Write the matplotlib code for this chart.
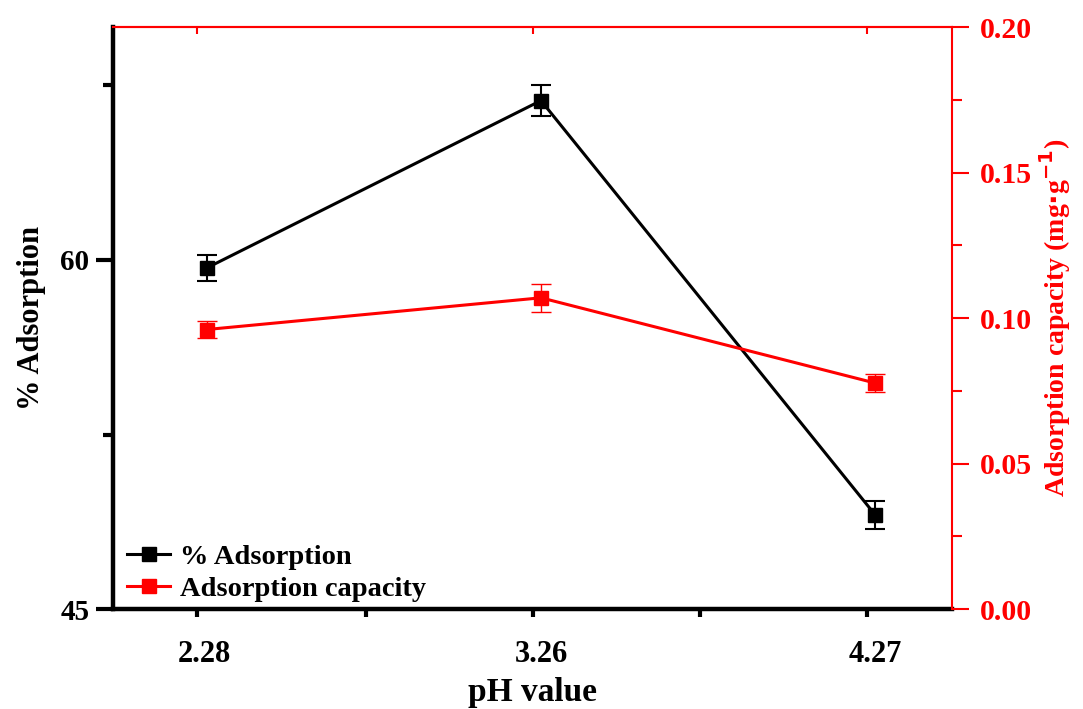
import matplotlib
matplotlib.use("Agg")
import matplotlib.pyplot as plt
import matplotlib.transforms as mtransforms
from matplotlib.ticker import MultipleLocator, FixedLocator, FormatStrFormatter

# ── data ──────────────────────────────────────────────────────────────────────
ph_labels = ["2.28", "3.26", "4.27"]
ph_pos = [0, 1, 2]

adsorption = [59.66, 66.85, 49.05]
adsorption_err = [0.56, 0.68, 0.60]

capacity = [0.0961, 0.1070, 0.0777]
capacity_err = [0.0030, 0.0049, 0.0030]

# tick marks in the original sit a few pixels left of the points
tick_pos = [-0.03, 0.976, 1.976]
minor_pos = [0.476, 1.476]

RED = "#ff0000"
FONT = "Liberation Serif"

plt.rcParams["font.family"] = FONT
plt.rcParams["font.weight"] = "bold"

fig = plt.figure(figsize=(10.83, 7.09), dpi=100)
ax = fig.add_axes([0.1043, 0.141, 0.7747, 0.8205])
ax2 = ax.twinx()

# ── series ────────────────────────────────────────────────────────────────────
e1 = ax.errorbar(ph_pos, adsorption, yerr=adsorption_err, color="black", lw=2.2,
                 marker="s", ms=10, mec="black", mfc="black",
                 capsize=7, elinewidth=1.5, capthick=1.5, zorder=3)
e2 = ax2.errorbar(ph_pos, capacity, yerr=capacity_err, color=RED, lw=2.2,
                  marker="s", ms=10, mec=RED, mfc=RED,
                  capsize=7, elinewidth=1.0, capthick=1.0, zorder=3)

# ── axes ──────────────────────────────────────────────────────────────────────
ax.set_xlim(-0.281, 2.23)
ax.set_ylim(45, 70)
ax2.set_ylim(0, 0.20)

ax.set_xticks(tick_pos)
ax.set_xticklabels(ph_labels)
ax.xaxis.set_minor_locator(FixedLocator(minor_pos))
ax.set_yticks([45, 60])
ax.yaxis.set_minor_locator(FixedLocator([52.5, 67.5]))
ax2.yaxis.set_major_locator(MultipleLocator(0.05))
ax2.yaxis.set_minor_locator(MultipleLocator(0.025))
ax2.yaxis.set_major_formatter(FormatStrFormatter("%.2f"))

for s in ("left", "bottom"):
    ax.spines[s].set_linewidth(3.2)
    ax.spines[s].set_color("black")
ax.spines["top"].set_visible(False)
ax.spines["right"].set_visible(False)
ax2.spines["left"].set_visible(False)
ax2.spines["bottom"].set_visible(False)
for s in ("top", "right"):
    ax2.spines[s].set_linewidth(1.5)
    ax2.spines[s].set_color(RED)

# small red inward ticks on the top edge
top = ax.secondary_xaxis("top")
top.set_xticks(tick_pos)
top.tick_params(direction="in", length=5, width=1.5, color=RED,
                labeltop=False)
top.spines["top"].set_color(RED)
top.spines["top"].set_linewidth(1.5)

ax.tick_params(axis="x", which="major", direction="out", length=6, width=3,
               labelsize=22, pad=16)
ax.tick_params(axis="x", which="minor", direction="out", length=6, width=3)
ax.tick_params(axis="y", which="major", direction="out", length=12, width=3,
               labelsize=21, pad=5)
ax.tick_params(axis="y", which="minor", direction="out", length=7, width=3)
ax2.tick_params(axis="y", which="major", direction="out", length=12, width=1.5,
                color=RED, labelcolor=RED, labelsize=21.5, pad=8)
ax2.tick_params(axis="y", which="minor", direction="out", length=7, width=1.5,
                color=RED)

shift = mtransforms.ScaledTranslation(8 / 100, 0, fig.dpi_scale_trans)
for lbl in ax.get_xticklabels():
    lbl.set_transform(lbl.get_transform() + shift)

ax.set_xlabel("pH value", fontsize=24, fontweight="bold", labelpad=6)
ax.set_ylabel("% Adsorption", fontsize=22, fontweight="bold", labelpad=10)
ax2.set_ylabel("Adsorption capacity (mg$\\cdot$g$^{\\mathbf{-1}}$)", fontsize=20,
               fontweight="bold", color=RED, labelpad=4)

# ── legend ────────────────────────────────────────────────────────────────────
ax2.legend([e1.lines[0], e2.lines[0]], ["% Adsorption", "Adsorption capacity"],
           loc="lower left", bbox_to_anchor=(0.0, -0.012), frameon=False,
           handlelength=1.5, handletextpad=0.35, labelspacing=0.2,
           borderaxespad=0.1,
           prop={"family": FONT, "weight": "bold", "size": 20.5})

fig.savefig("out.png", dpi=100, facecolor="white")
